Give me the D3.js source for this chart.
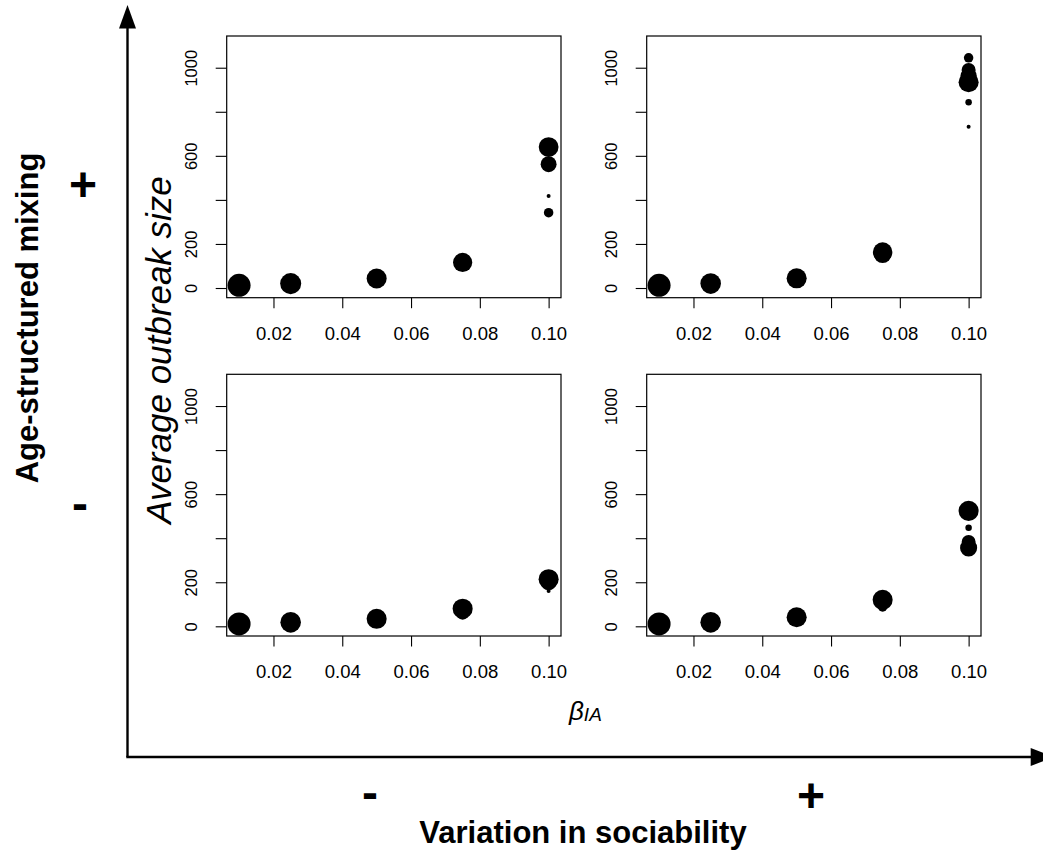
<!DOCTYPE html>
<html><head><meta charset="utf-8">
<script src="https://cdn.jsdelivr.net/npm/d3@7"></script>
<style>body{margin:0;background:#fff} svg{display:block;font-family:"Liberation Sans",Arial,Helvetica,sans-serif}</style>
</head><body>
<svg id="c" width="1043" height="852"></svg>
<script>
// ---- data ----
const betaTicks = [0.02, 0.04, 0.06, 0.08, 0.10];
const yTicks = [0, 200, 400, 600, 800, 1000];
const yTickLabels = ["0", "200", "", "600", "", "1000"];

// top-left: age-structured mixing +, variation in sociability -
const tlBeta   = [0.01, 0.025, 0.05, 0.075, 0.10, 0.10, 0.10, 0.10];
const tlSize   = [12, 20, 43, 116, 640, 562, 418, 342];
const tlWeight = [100, 84, 76, 70, 74, 48, 3, 17];

// top-right: mixing +, sociability +
const trBeta   = [0.01, 0.025, 0.05, 0.075, 0.075, 0.10, 0.10, 0.10, 0.10, 0.10, 0.10];
const trSize   = [12, 20, 44, 163, 154, 1045, 990, 962, 934, 843, 732];
const trWeight = [100, 80, 76, 72, 60, 17, 37, 50, 76, 8, 3];

// bottom-left: mixing -, sociability -
const blBeta   = [0.01, 0.025, 0.05, 0.075, 0.075, 0.10, 0.10, 0.10];
const blSize   = [11, 18, 34, 80, 62, 214, 200, 160];
const blWeight = [100, 80, 76, 76, 37, 76, 48, 3];

// bottom-right: mixing -, sociability +
const brBeta   = [0.01, 0.025, 0.05, 0.075, 0.075, 0.10, 0.10, 0.10, 0.10];
const brSize   = [11, 18, 41, 120, 88, 524, 447, 383, 356];
const brWeight = [100, 80, 76, 76, 17, 76, 8, 37, 55];

// ---- drawing ----
const svg = d3.select("#c");
const PW = 334.3, PH = 261.7;
const panels = [
  {beta: tlBeta, size: tlSize, w: tlWeight, x0: 226.7, y0: 36},
  {beta: trBeta, size: trSize, w: trWeight, x0: 646.7, y0: 36},
  {beta: blBeta, size: blSize, w: blWeight, x0: 226.7, y0: 374.3},
  {beta: brBeta, size: brSize, w: brWeight, x0: 646.7, y0: 374.3}
];
const r = d3.scaleSqrt().domain([0, 100]).range([0, 11.5]);

panels.forEach(p => {
  const x = d3.scaleLinear().domain([0.0064, 0.1036]).range([p.x0, p.x0 + PW]);
  const y = d3.scaleLinear().domain([-44, 1144]).range([p.y0 + PH, p.y0]);
  const g = svg.append("g");

  const xa = g.append("g").attr("transform", `translate(0,${p.y0 + PH})`)
    .call(d3.axisBottom(x).tickValues(betaTicks).tickSize(10.5).tickFormat(d3.format(".2f")));
  xa.select(".domain").remove();
  xa.selectAll("line").attr("stroke", "#000").attr("stroke-width", 1.1);
  xa.selectAll("text").attr("y", 42).attr("dy", null).attr("fill", "#000")
    .style("font-size", "18.5px").style("font-family", "'Liberation Sans',Arial,sans-serif");

  const ya = g.append("g").attr("transform", `translate(${p.x0},0)`)
    .call(d3.axisLeft(y).tickValues(yTicks).tickSize(11).tickFormat((d, i) => yTickLabels[i]));
  ya.select(".domain").remove();
  ya.selectAll("line").attr("stroke", "#000").attr("stroke-width", 1.1);
  ya.selectAll("text").attr("x", null).attr("dy", null)
    .attr("transform", "translate(-29.7,0) rotate(-90)")
    .attr("text-anchor", "middle").attr("fill", "#000")
    .style("font-size", "16.5px").style("font-family", "'Liberation Sans',Arial,sans-serif");

  g.append("rect").attr("x", p.x0).attr("y", p.y0).attr("width", PW).attr("height", PH)
    .attr("fill", "none").attr("stroke", "#000").attr("stroke-width", 1.2);

  const pts = p.beta.map((b, i) => ({b, s: p.size[i], w: p.w[i]}))
    .sort((a, c) => c.w - a.w);
  g.selectAll("circle").data(pts).join("circle")
    .attr("cx", d => x(d.b)).attr("cy", d => y(d.s)).attr("r", d => r(d.w))
    .attr("fill", "#000");
});

// big axes arrows
svg.append("line").attr("x1", 127.5).attr("y1", 757).attr("x2", 127.5).attr("y2", 26)
  .attr("stroke", "#000").attr("stroke-width", 2.4);
svg.append("line").attr("x1", 126.3).attr("y1", 757).attr("x2", 1033).attr("y2", 757)
  .attr("stroke", "#000").attr("stroke-width", 2.4);
svg.append("path").attr("d", "M127.5,5 L119,28.5 L136,28.5 Z").attr("fill", "#000");
svg.append("path").attr("d", "M1054,757 L1030.7,748 L1030.7,766 Z").attr("fill", "#000");

// labels
svg.append("text").attr("transform", "translate(38,318) rotate(-90)")
  .attr("text-anchor", "middle").style("font-weight", "bold").style("font-size", "31px")
  .text("Age-structured mixing");
svg.append("text").attr("x", 583).attr("y", 843)
  .attr("text-anchor", "middle").style("font-weight", "bold").style("font-size", "31px")
  .text("Variation in sociability");

svg.append("text").attr("x", 83).attr("y", 201).attr("text-anchor", "middle")
  .style("font-weight", "bold").style("font-size", "48px").text("+");
svg.append("text").attr("x", 80).attr("y", 520).attr("text-anchor", "middle")
  .style("font-weight", "bold").style("font-size", "48px").text("-");
svg.append("text").attr("x", 370).attr("y", 809).attr("text-anchor", "middle")
  .style("font-weight", "bold").style("font-size", "48px").text("-");
svg.append("text").attr("x", 811).attr("y", 812).attr("text-anchor", "middle")
  .style("font-weight", "bold").style("font-size", "48px").text("+");

svg.append("text").attr("transform", "translate(171,350) rotate(-90)")
  .attr("text-anchor", "middle").style("font-style", "italic").style("font-size", "35px")
  .text("Average outbreak size");

const bl = svg.append("text").attr("x", 569).attr("y", 720).style("font-style", "italic");
bl.append("tspan").style("font-size", "26px").text("β");
bl.append("tspan").style("font-size", "19px").attr("dy", 1).text("IA");
</script>
</body></html>
